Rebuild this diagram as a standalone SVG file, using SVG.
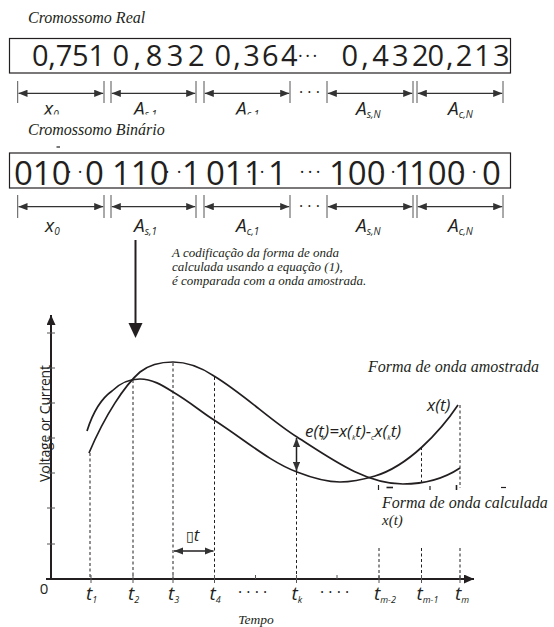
<svg xmlns="http://www.w3.org/2000/svg" width="554" height="627" viewBox="0 0 554 627">
<defs>
<style>
.ser{font-family:"Liberation Serif","Times New Roman",serif;font-style:italic;fill:#231f20}
.num{font-family:"Open Sans","DejaVu Sans",sans-serif;fill:#231f20}
.sym{font-family:"Open Sans","DejaVu Sans",sans-serif;font-style:italic;fill:#231f20}
.box{fill:#fff;stroke:#231f20;stroke-width:1.2}
.tick{stroke:#555;stroke-width:1}
.dim{stroke:#333;stroke-width:1.3;marker-start:url(#ah);marker-end:url(#ah)}
.dash{stroke:#231f20;stroke-width:1;stroke-dasharray:3 2.5;fill:none}
.curve{fill:none;stroke:#231f20;stroke-width:1.7}
.axis{stroke:#231f20;stroke-width:2;fill:none}
.mk{stroke:#231f20;stroke-width:1.2}
</style>
<marker id="ah" viewBox="0 0 10 8" refX="10" refY="4" markerUnits="userSpaceOnUse" markerWidth="9" markerHeight="7.5" orient="auto-start-reverse"><path d="M0,0 L10,4 L0,8 z" fill="#333"/></marker>
<marker id="ax" viewBox="0 0 10 9" refX="10" refY="4.5" markerUnits="userSpaceOnUse" markerWidth="10.5" markerHeight="9" orient="auto-start-reverse"><path d="M0,0 L10,4.5 L0,9 z" fill="#231f20"/></marker>
<clipPath id="cut"><rect x="0" y="0" width="300" height="114.5"/></clipPath>
</defs>
<rect width="554" height="627" fill="#fff"/>

<g id="real-chromosome">
<text class="ser" x="28" y="23" font-size="16">Cromossomo Real</text>
<rect class="box" x="9.5" y="38.5" width="501" height="34.5"/>
<g class="num" font-size="29">
<text y="66" x="32" textLength="73">0,751</text>
<text y="66" x="112.5" textLength="92">0,832</text>
<text y="66" x="214.5" textLength="83">0,364</text>
<text y="66" x="341.5" textLength="87">0,432</text>
<text y="66" x="427.5" textLength="82">0,213</text>
</g>
<text class="num" font-size="18" y="62" x="298" letter-spacing="2.5">···</text>
</g>

<g id="real-dimensions">
<g class="tick">
<line x1="17.7" y1="81" x2="17.7" y2="103"/><line x1="104" y1="81" x2="104" y2="103"/>
<line x1="111" y1="81" x2="111" y2="103"/><line x1="196" y1="81" x2="196" y2="103"/>
<line x1="204" y1="81" x2="204" y2="103"/><line x1="290" y1="81" x2="290" y2="103"/>
<line x1="327" y1="81" x2="327" y2="103"/><line x1="413" y1="81" x2="413" y2="103"/>
<line x1="417" y1="81" x2="417" y2="103"/><line x1="503" y1="81" x2="503" y2="103"/>
</g>
<line class="dim" x1="18.5" y1="93.3" x2="103.2" y2="93.3"/>
<line class="dim" x1="111.8" y1="93.3" x2="195.2" y2="93.3"/>
<line class="dim" x1="204.8" y1="93.3" x2="289.2" y2="93.3"/>
<line class="dim" x1="327.8" y1="93.3" x2="412.2" y2="93.3"/>
<line class="dim" x1="417.8" y1="93.3" x2="502.2" y2="93.3"/>
<text class="num" font-size="16" y="98" x="299">· · ·</text>
<g clip-path="url(#cut)">
<text class="sym" font-size="19" x="44" y="115">x<tspan font-size="10" dy="3">0</tspan></text>
<text class="sym" font-size="19" x="134" y="115">A<tspan font-size="10" dy="3">s,1</tspan></text>
<text class="sym" font-size="19" x="236" y="115">A<tspan font-size="10" dy="3">c,1</tspan></text>
</g>
<text class="sym" font-size="19" x="356" y="114.5">A<tspan font-size="10" dy="3">s,N</tspan></text>
<text class="sym" font-size="19" x="448" y="114.5">A<tspan font-size="10" dy="3">c,N</tspan></text>
</g>

<g id="binary-chromosome">
<text class="ser" x="28" y="135" font-size="16">Cromossomo Binário</text>
<line class="mk" x1="56.5" y1="147" x2="60" y2="147"/>
<rect class="box" x="9.5" y="153" width="501" height="35"/>
<g class="num" font-size="33">
<text x="14" y="184.5">010</text>
<text x="85" y="184.5">0</text>
<text x="112" y="184.5">110</text>
<text x="182" y="184.5">1</text>
<text x="206" y="184.5">011</text>
<text x="268" y="184.5">1</text>
<text x="329" y="184.5">100</text>
<text x="394" y="184.5">1</text>
<text x="409" y="184.5">100</text>
<text x="482" y="184.5">0</text>
</g>
<g class="num" font-size="18" text-anchor="middle">
<text x="69" y="178">·</text><text x="80" y="178">·</text>
<text x="167" y="178">·</text><text x="179" y="178">·</text>
<text x="249" y="178">·</text><text x="262" y="178">·</text>
<text x="302" y="178">·</text><text x="310" y="178">·</text><text x="318" y="178">·</text>
<text x="382" y="178">·</text><text x="393" y="178">·</text>
<text x="461" y="178">·</text><text x="474" y="178">·</text>
</g>
</g>

<g id="binary-dimensions">
<g class="tick">
<line x1="17.7" y1="195" x2="17.7" y2="218"/><line x1="104" y1="195" x2="104" y2="218"/>
<line x1="111" y1="195" x2="111" y2="218"/><line x1="196" y1="195" x2="196" y2="218"/>
<line x1="204" y1="195" x2="204" y2="218"/><line x1="290" y1="195" x2="290" y2="218"/>
<line x1="327" y1="195" x2="327" y2="218"/><line x1="413" y1="195" x2="413" y2="218"/>
<line x1="417" y1="195" x2="417" y2="218"/><line x1="503" y1="195" x2="503" y2="218"/>
</g>
<line class="dim" x1="18.5" y1="206.7" x2="103.2" y2="206.7"/>
<line class="dim" x1="111.8" y1="206.7" x2="195.2" y2="206.7"/>
<line class="dim" x1="204.8" y1="206.7" x2="289.2" y2="206.7"/>
<line class="dim" x1="327.8" y1="206.7" x2="412.2" y2="206.7"/>
<line class="dim" x1="417.8" y1="206.7" x2="502.2" y2="206.7"/>
<text class="num" font-size="16" y="211.5" x="299">· · ·</text>
<text class="sym" font-size="19" x="45" y="232">x<tspan font-size="10" dy="3">0</tspan></text>
<text class="sym" font-size="19" x="134" y="232">A<tspan font-size="10" dy="3">s,1</tspan></text>
<text class="sym" font-size="19" x="236" y="232">A<tspan font-size="10" dy="3">c,1</tspan></text>
<text class="sym" font-size="19" x="356" y="232">A<tspan font-size="10" dy="3">s,N</tspan></text>
<text class="sym" font-size="19" x="448" y="232">A<tspan font-size="10" dy="3">c,N</tspan></text>
</g>

<g id="caption">
<text class="ser" font-size="13" x="172" y="257">A codificação da forma de onda</text>
<text class="ser" font-size="13" x="172" y="271">calculada usando a equação (1),</text>
<text class="ser" font-size="13" x="172" y="284.5">é comparada com a onda amostrada.</text>
</g>

<g id="connectors">
<line x1="135.5" y1="240" x2="135.5" y2="324" stroke="#231f20" stroke-width="2"/>
<path d="M128.5,323 L142.5,323 L135.5,338 z" fill="#231f20"/>
</g>

<g id="chart">
<line class="axis" x1="51" y1="580" x2="51" y2="315" marker-end="url(#ax)"/>
<line class="axis" x1="46" y1="579" x2="474" y2="579" marker-end="url(#ax)"/>
<g class="tick" stroke="#231f20">
<line x1="47" y1="333" x2="55" y2="333"/><line x1="47" y1="368" x2="55" y2="368"/>
<line x1="47" y1="403" x2="55" y2="403"/><line x1="47" y1="438" x2="55" y2="438"/>
<line x1="47" y1="473" x2="55" y2="473"/><line x1="47" y1="508" x2="55" y2="508"/>
<line x1="47" y1="544" x2="55" y2="544"/>
<line x1="255.5" y1="575" x2="255.5" y2="579"/><line x1="337" y1="575" x2="337" y2="579"/>
</g>
<text class="num" font-size="14" text-anchor="middle" transform="translate(50,423.5) rotate(-90)" textLength="117">Voltage or Current</text>
<text class="num" font-size="15" x="44" y="594" text-anchor="middle">0</text>

<path class="curve" d="M89,453 C105,415 125,385 140,372 C150,364 162,362 173,362 C190,362 205,370 214,376 C245,395 270,420 297,437 C330,458 365,484 403,484 C425,484 445,478 460,468"/>
<path class="curve" d="M87,431 C93,412 102,398 112,391 C120,383 130,379 140,379 C152,379 162,385 173,392 C190,402 200,411 214,420 C245,440 270,462 297,472 C315,479 328,482 340,482 C355,482 365,479 375,476 C395,470 410,458 422,447 C435,435 448,420 458,405"/>

<line class="dash" x1="90" y1="453" x2="90" y2="579"/>
<line class="dash" x1="133" y1="380" x2="133" y2="579"/>
<line class="dash" x1="173" y1="363" x2="173" y2="579"/>
<line class="dash" x1="214.5" y1="377" x2="214.5" y2="579"/>
<line class="dash" x1="296.5" y1="472" x2="296.5" y2="579"/>
<line class="dash" x1="379" y1="548" x2="379" y2="579"/>
<line class="dash" x1="421.5" y1="447" x2="421.5" y2="484"/>
<line class="dash" x1="421.5" y1="548" x2="421.5" y2="579"/>
<line class="dash" x1="460" y1="405" x2="460" y2="488" stroke-width="2.2" stroke-dasharray="2.5 1.5"/>
<line class="dash" x1="460" y1="548" x2="460" y2="579" stroke-width="2.2" stroke-dasharray="2.5 1.5"/>
<g class="mk">
<line x1="378.5" y1="485" x2="378.5" y2="490"/>
<line x1="386.5" y1="487.5" x2="393" y2="487.5" stroke-width="1.6"/>
<line x1="430" y1="486" x2="430" y2="490"/>
<line x1="456.5" y1="485" x2="456.5" y2="490" stroke-width="1.6"/>
<line x1="501" y1="487.5" x2="506" y2="487.5"/>
</g>

<line x1="296.5" y1="438" x2="296.5" y2="471" stroke="#231f20" stroke-width="1.5" marker-start="url(#ah)" marker-end="url(#ah)"/>
<line x1="174" y1="551" x2="213.5" y2="551" stroke="#231f20" stroke-width="1.5" marker-start="url(#ah)" marker-end="url(#ah)"/>
<text x="186" y="541" fill="#231f20"><tspan font-family="DejaVu Sans, sans-serif" font-size="14">▯</tspan><tspan class="sym" font-size="17">t</tspan></text>

<text class="sym" font-size="17" x="305" y="437">e(t<tspan font-size="7" dx="-3" dy="3">k</tspan><tspan dy="-3">)=x(</tspan><tspan font-size="7" dy="3">k</tspan><tspan dy="-3">t)-</tspan><tspan font-size="7" dy="3">c</tspan><tspan dy="-3">x(</tspan><tspan font-size="7" dy="3">k</tspan><tspan dy="-3">t)</tspan></text>
<text class="sym" font-size="17" x="427" y="411">x(t)</text>

<text class="ser" font-size="16" x="368" y="372">Forma de onda amostrada</text>
<text class="ser" font-size="16" x="382" y="508">Forma de onda calculada</text>
<text class="ser" font-size="15" x="382" y="525">x(t)</text>

<g class="tick" stroke="#231f20">
<line x1="91" y1="575" x2="91" y2="583"/><line x1="133" y1="575" x2="133" y2="583"/>
<line x1="173" y1="575" x2="173" y2="583"/><line x1="214.5" y1="575" x2="214.5" y2="583"/>
<line x1="296.5" y1="575" x2="296.5" y2="583"/><line x1="379" y1="575" x2="379" y2="583"/>
<line x1="421.5" y1="575" x2="421.5" y2="583"/><line x1="460" y1="575" x2="460" y2="583"/>
</g>
<g class="sym" font-size="19">
<text x="86" y="600">t<tspan font-size="9" dy="3">1</tspan></text>
<text x="128" y="600">t<tspan font-size="9" dy="3">2</tspan></text>
<text x="168" y="600">t<tspan font-size="9" dy="3">3</tspan></text>
<text x="209.5" y="600">t<tspan font-size="9" dy="3">4</tspan></text>
<text x="291.5" y="600">t<tspan font-size="9" dy="3">k</tspan></text>
<text x="374" y="600">t<tspan font-size="9" dy="3">m-2</tspan></text>
<text x="416.5" y="600">t<tspan font-size="9" dy="3">m-1</tspan></text>
<text x="455" y="600">t<tspan font-size="9" dy="3">m</tspan></text>
</g>
<text class="num" font-size="16" x="238" y="598">· · · ·</text>
<text class="num" font-size="16" x="320" y="598">· · · ·</text>
<text class="ser" font-size="13.5" x="256" y="624" text-anchor="middle">Tempo</text>
</g>
</svg>
